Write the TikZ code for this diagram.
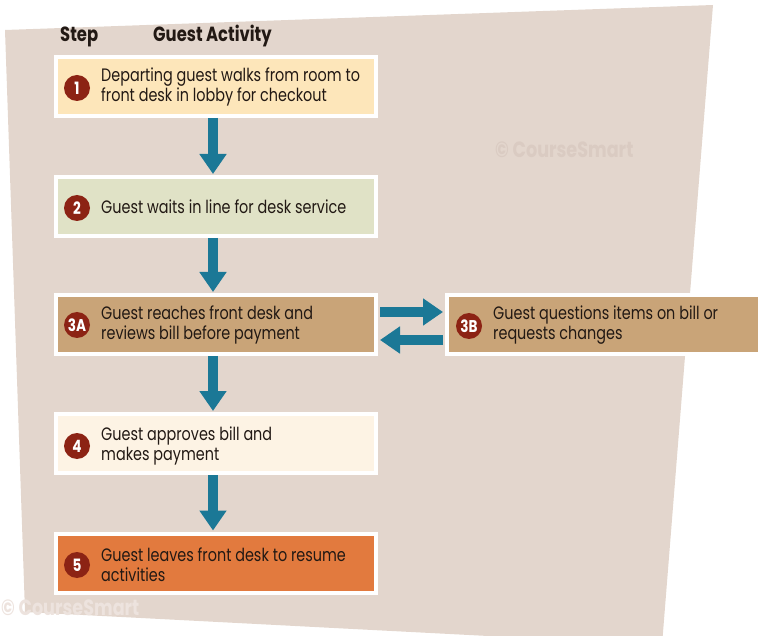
\documentclass[tikz,border=0pt]{standalone}
\usepackage{fontspec}
\setmainfont{Poppins}[FakeStretch=0.8]
\usetikzlibrary{arrows.meta}
\definecolor{bgc}{HTML}{E3D6CD}
\definecolor{c1}{HTML}{FDE6BA}
\definecolor{c2}{HTML}{E0E2C6}
\definecolor{ctan}{HTML}{C9A478}
\definecolor{c4}{HTML}{FDF3E4}
\definecolor{c5}{HTML}{E27A3E}
\definecolor{numc}{HTML}{8C2314}
\definecolor{arrc}{HTML}{1B7896}
\definecolor{txtc}{HTML}{221914}
\definecolor{wm1}{HTML}{DACBC2}
\definecolor{wm2}{HTML}{EDE3DE}
\begin{document}
\begin{tikzpicture}[x=1pt,y=-1pt,
  box/.style={rectangle, draw=white, line width=4pt, minimum width=320pt, minimum height=59pt, inner sep=0pt},
  num/.style={circle, fill=numc, text=white, font=\fontsize{17}{17}\selectfont\bfseries, minimum size=26pt, inner sep=0pt},
  txt/.style={anchor=west, align=left, text=txtc, font=\fontsize{18}{20}\selectfont, inner sep=0pt},
  head/.style={anchor=base west, text=txtc, font=\fontsize{20.5}{20.5}\selectfont\bfseries, inner sep=0pt},
  flow/.style={draw=arrc, line width=10pt, -{Triangle[width=26pt,length=20pt]}},
  wmark/.style={anchor=west, font=\fontsize{22}{22}\selectfont\bfseries, inner sep=0pt}]
\useasboundingbox (0,0) rectangle (758,636);
\fill[bgc] (5,30) -- (713,5) -- (662,645) -- (25,612) -- cycle;
\node[wmark, text=wm1] (wmA) at (495,150) {© CourseSmart};
\node[wmark, text=wm2] (wmB) at (1,608) {© CourseSmart};
% headings
\node[head] (hstep) at (60,42) {Step};
\node[head] (hact) at (153,42) {Guest Activity};
% boxes
\node[box, fill=c1] (b1) at (216,86.5) {};
\node[box, fill=c2] (b2) at (216,206.5) {};
\node[box, fill=ctan] (b3a) at (216,324.5) {};
\node[box, fill=ctan, minimum width=320pt] (b3b) at (607,324.5) {};
\node[box, fill=c4] (b4) at (216,443.5) {};
\node[box, fill=c5] (b5) at (216,563) {};
% numbers
\node[num] (n1) at (77,88) {1};
\node[num] (n2) at (77,208) {2};
\node[num] (n3a) at (77,325) {3A};
\node[num] (n3b) at (469,326) {3B};
\node[num] (n4) at (77,446) {4};
\node[num] (n5) at (77,565) {5};
% texts
\node[txt] (t1) at (101,87) {Departing guest walks from room to\\front desk in lobby for checkout};
\node[txt] (t2) at (101,207) {Guest waits in line for desk service};
\node[txt] (t3a) at (101,325) {Guest reaches front desk and\\reviews bill before payment};
\node[txt] (t3b) at (493,325) {Guest questions items on bill or\\requests changes};
\node[txt] (t4) at (101,446) {Guest approves bill and\\makes payment};
\node[txt] (t5) at (101,565) {Guest leaves front desk to resume\\activities};
% arrows
\draw[flow] (b1.south -| 213,0) -- ([yshift=1pt]b2.north -| 213,0);
\draw[flow] (b2.south -| 213,0) -- ([yshift=1pt]b3a.north -| 213,0);
\draw[flow] (b3a.south -| 213,0) -- ([yshift=1pt]b4.north -| 213,0);
\draw[flow] (b4.south -| 213,0) -- ([yshift=1pt]b5.north -| 213,0);
\draw[flow] ([xshift=2pt,yshift=12.5pt]b3a.east) -- ([xshift=-2pt,yshift=12.5pt]b3b.west);
\draw[flow] ([xshift=-2pt,yshift=-15.5pt]b3b.west) -- ([xshift=2pt,yshift=-15.5pt]b3a.east);
\end{tikzpicture}
\end{document}
